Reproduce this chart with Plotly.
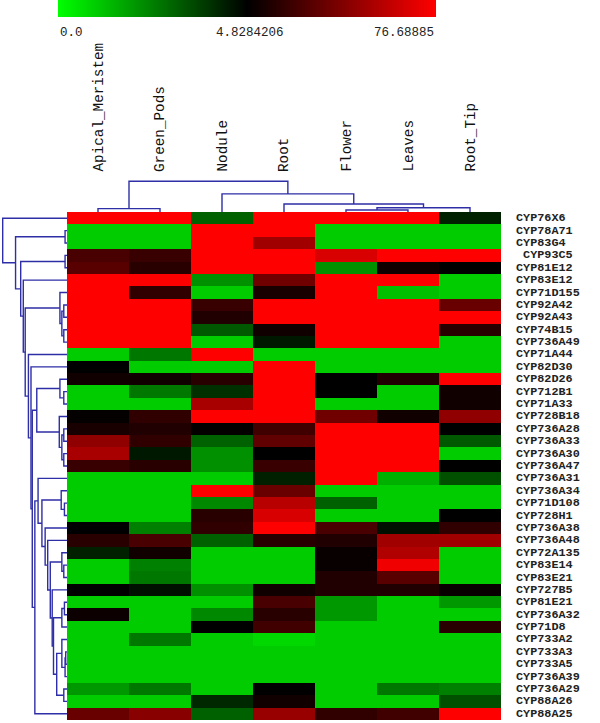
import plotly.graph_objects as go

tissues = ["Apical_Meristem", "Green_Pods", "Nodule", "Root", "Flower", "Leaves", "Root_Tip"]

genes = ["CYP76X6", "CYP78A71", "CYP83G4", "\u00a0CYP93C5", "CYP81E12", "CYP83E12",
         "CYP71D155", "CYP92A42", "CYP92A43", "CYP74B15", "CYP736A49", "CYP71A44",
         "CYP82D30", "CYP82D26", "CYP712B1", "CYP71A33", "CYP728B18", "CYP736A28",
         "CYP736A33", "CYP736A30", "CYP736A47", "CYP736A31", "CYP736A34", "CYP71D108",
         "CYP728H1", "CYP736A38", "CYP736A48", "CYP72A135", "CYP83E14", "CYP83E21",
         "CYP727B5", "CYP81E21", "CYP736A32", "CYP71D8", "CYP733A2", "CYP733A3",
         "CYP733A5", "CYP736A39", "CYP736A29", "CYP88A26", "CYP88A25"]

# expression per tissue, one value per gene (rows in the order above)
apical_meristem = [76.7, 0.97, 0.97, 25.1, 29.6, 76.7, 76.7, 76.7, 76.7, 76.7, 76.7,
                   0.97, 4.83, 9.3, 0.97, 0.97, 6.2, 11.6, 45.4, 52.2, 20.6,
                   0.97, 0.97, 0.97, 0.97, 4.83, 16.1, 4.22, 0.97, 0.97, 4.83,
                   0.97, 8.2, 0.97, 0.97, 0.97, 0.97, 0.97, 1.95, 0.97, 34.1]
green_pods = [76.7, 0.97, 0.97, 20.6, 16.1, 76.7, 18.4, 76.7, 76.7, 76.7, 76.7,
              2.56, 0.97, 9.3, 2.56, 0.97, 18.4, 13.9, 18.4, 4.37, 16.1,
              0.97, 0.97, 0.97, 0.97, 2.41, 25.1, 9.3, 2.41, 2.56, 4.53,
              0.97, 0.97, 0.97, 2.56, 0.97, 0.97, 0.97, 2.56, 0.97, 43.1]
nodule = [3.0, 76.7, 76.7, 76.7, 76.7, 2.1, 0.97, 20.6, 13.9, 3.16, 0.97,
          76.7, 0.97, 16.1, 3.92, 52.2, 76.7, 6.2, 3.0, 2.1, 2.1,
          0.97, 76.7, 2.26, 16.1, 18.4, 3.0, 0.97, 0.97, 0.97, 2.1,
          0.97, 2.26, 4.83, 0.97, 0.97, 0.97, 0.97, 0.97, 4.07, 3.0]
root = [76.7, 76.7, 49.9, 76.7, 76.7, 36.4, 11.6, 76.7, 76.7, 9.3, 4.37,
        0.97, 76.7, 76.7, 76.7, 76.7, 76.7, 22.9, 31.9, 4.83, 20.6,
        4.22, 34.1, 56.7, 65.7, 76.7, 16.1, 0.97, 0.97, 0.97, 9.3,
        25.1, 16.1, 22.9, 0.74, 0.97, 0.97, 0.97, 4.83, 9.3, 47.7]
flower = [76.7, 0.97, 0.97, 65.7, 2.1, 76.7, 76.7, 76.7, 76.7, 76.7, 76.7,
          0.97, 0.97, 4.83, 4.83, 0.97, 36.4, 76.7, 76.7, 76.7, 76.7,
          76.7, 0.97, 3.0, 0.97, 25.1, 13.9, 7.1, 7.1, 13.9, 13.9,
          1.95, 1.95, 0.97, 0.97, 0.97, 0.97, 0.97, 0.97, 0.97, 18.4]
leaves = [76.7, 0.97, 0.97, 76.7, 9.3, 76.7, 1.19, 76.7, 76.7, 76.7, 76.7,
          0.97, 0.97, 13.9, 0.97, 0.97, 9.3, 76.7, 76.7, 76.7, 76.7,
          1.5, 0.97, 0.97, 0.97, 4.53, 49.9, 54.4, 72.5, 29.6, 13.9,
          0.97, 0.97, 0.97, 0.97, 0.97, 0.97, 0.97, 2.56, 0.97, 22.9]
root_tip = [4.2, 0.97, 0.97, 76.7, 5.0, 0.97, 0.97, 34.1, 76.7, 16.1, 0.97,
            0.97, 0.97, 76.7, 9.3, 9.3, 45.4, 4.83, 3.16, 0.97, 4.83,
            3.32, 0.97, 0.97, 4.83, 18.4, 49.9, 0.97, 0.97, 0.97, 7.1,
            1.95, 0.97, 16.1, 0.97, 0.97, 0.97, 0.97, 2.41, 3.32, 76.7]

scale_min, scale_mid, scale_max = 0.0, 4.8284206, 76.68885
scale_labels = ["0.0", "4.8284206", "76.68885"]

# gene tree: [child a, child b, height]; ids >= 41 are earlier merges
row_links = [[1, 2, 0.03], [3, 4, 0.03], [7, 8, 0.05], [9, 10, 0.05], [43, 44, 0.08],
             [6, 45, 0.11], [14, 15, 0.05], [13, 47, 0.11], [17, 18, 0.05], [19, 20, 0.05],
             [49, 50, 0.08], [16, 51, 0.12], [48, 52, 0.47], [23, 24, 0.04], [22, 54, 0.09],
             [28, 29, 0.05], [27, 56, 0.08], [31, 32, 0.04], [58, 33, 0.08], [35, 36, 0.02],
             [60, 37, 0.03], [34, 61, 0.08], [38, 39, 0.05], [62, 63, 0.16], [59, 64, 0.21],
             [30, 65, 0.23], [57, 66, 0.26], [26, 67, 0.30], [25, 68, 0.34], [55, 69, 0.39],
             [21, 70, 0.45], [71, 40, 0.50], [53, 72, 0.54], [12, 73, 0.56], [11, 74, 0.60],
             [46, 75, 0.65], [5, 76, 0.68], [42, 77, 0.72], [41, 78, 0.80], [0, 79, 1.0]]

# tissue tree, ids >= 7 are earlier merges
col_links = [[0, 1, 0.11], [4, 5, 0.065], [8, 6, 0.14], [3, 9, 0.26], [2, 10, 0.59], [7, 11, 1.0]]

columns = [apical_meristem, green_pods, nodule, root, flower, leaves, root_tip]
for c in columns:
    assert len(c) == len(genes)


def to_scale(v):
    # colour position: green..black over 0..mid, black..red over mid..max
    if v <= scale_mid:
        return 0.5 * (v - scale_min) / (scale_mid - scale_min)
    return min(1.0, 0.5 + 0.5 * (v - scale_mid) / (scale_max - scale_mid))


def tree_lines(n, links):
    pos = list(range(n))
    hgt = [0.0] * n
    p, h = [], []
    for a, b, lh in links:
        p += [pos[a], pos[a], pos[b], pos[b], None]
        h += [hgt[a], lh, lh, hgt[b], None]
        pos.append((pos[a] + pos[b]) / 2)
        hgt.append(lh)
    return p, h


W, H = 600, 723
hx0, hx1, hy0, hy1 = 67, 501, 212, 720   # heatmap box in px
n_rows = len(genes)

z = [[to_scale(c[i]) for c in columns] for i in range(n_rows)]
raw = [[c[i] for c in columns] for i in range(n_rows)]

fig = go.Figure()
fig.add_trace(go.Heatmap(
    z=z, customdata=raw, x=list(range(7)), y=list(range(n_rows)),
    zmin=0, zmax=1,
    colorscale=[[0, "#00ff00"], [0.5, "#000000"], [1, "#ff0000"]],
    hovertemplate="%{customdata}<extra></extra>",
    colorbar=dict(orientation="h", x=58 / W, xanchor="left", y=1, yanchor="top",
                  len=378 / W, lenmode="fraction", thickness=17, outlinewidth=0,
                  xpad=0, ypad=0, showticklabels=False, ticks=""),
))

rp, rh = tree_lines(n_rows, row_links)
fig.add_trace(go.Scatter(x=rh, y=rp, mode="lines", xaxis="x2", yaxis="y2",
                         line=dict(color="#2e2ea6", width=1.4), hoverinfo="skip"))
cp, ch = tree_lines(7, col_links)
fig.add_trace(go.Scatter(x=cp, y=ch, mode="lines", xaxis="x3", yaxis="y3",
                         line=dict(color="#2e2ea6", width=1.4), hoverinfo="skip"))

hid = dict(visible=False, showgrid=False, zeroline=False, fixedrange=True)
fig.update_layout(
    width=W, height=H, margin=dict(l=0, r=0, t=0, b=0),
    paper_bgcolor="white", plot_bgcolor="rgba(0,0,0,0)", showlegend=False,
    xaxis=dict(domain=[hx0 / W, hx1 / W], range=[-0.5, 6.5], **hid),
    yaxis=dict(domain=[(H - hy1) / H, (H - hy0) / H], range=[n_rows - 0.5, -0.5], **hid),
    xaxis2=dict(domain=[0, hx0 / W], range=[hx0 / 64.3, 0], anchor="y2", **hid),
    yaxis2=dict(domain=[(H - hy1) / H, (H - hy0) / H], range=[n_rows - 0.5, -0.5], anchor="x2", **hid),
    xaxis3=dict(domain=[hx0 / W, hx1 / W], range=[-0.5, 6.5], anchor="y3", **hid),
    yaxis3=dict(domain=[(H - hy0) / H, (H - 170) / H], range=[0, 42 / 30.7], anchor="x3", **hid),
)

mono = "Liberation Mono, Courier New, monospace"
ann = []
for lab, px, anc in zip(scale_labels, [58, 214, 436], ["left", "left", "right"]):
    ann.append(dict(text=lab, x=px / W, y=(H - 33) / H, xref="paper", yref="paper",
                    xanchor=anc, yanchor="middle", showarrow=False,
                    font=dict(family=mono, size=12.5, color="#222")))
for i, t in enumerate(tissues):
    ann.append(dict(text=t, x=i, y=(H - 174) / H, xref="x", yref="paper", textangle=-90,
                    xanchor="center", yanchor="bottom", showarrow=False,
                    font=dict(family=mono, size=14.3, color="#111")))
for i, g in enumerate(genes):
    ann.append(dict(text="<b>%s</b>" % g, x=514 / W, y=i, xref="paper", yref="y",
                    xanchor="left", yanchor="middle", showarrow=False,
                    font=dict(family=mono, size=11.8, color="#222")))
fig.update_layout(annotations=ann)

# page body has an 8px default margin; drop it so the figure sits at the corner
fig.write_html("out.html", config={"displayModeBar": False},
               post_script="document.body.style.margin='0';")
